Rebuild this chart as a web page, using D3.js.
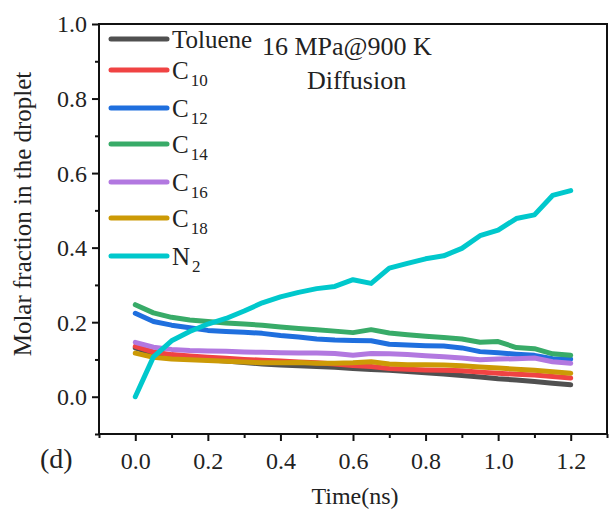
<!DOCTYPE html>
<html><head><meta charset="utf-8">
<script src="https://cdn.jsdelivr.net/npm/d3@7/dist/d3.min.js"></script>
<style>body{margin:0;background:#fff}svg text{font-family:"Liberation Serif","Times New Roman",serif;fill:#222}</style>
</head><body><svg id="c" width="609" height="512"></svg>
<script>
const time = [0,0.05,0.1,0.15,0.2,0.25,0.3,0.35,0.4,0.45,0.5,0.55,0.6,0.65,0.7,0.75,0.8,0.85,0.9,0.95,1.0,1.05,1.1,1.15,1.2];
const toluene = [0.131,0.115,0.107,0.102,0.099,0.096,0.092,0.088,0.085,0.083,0.081,0.079,0.076,0.073,0.071,0.068,0.064,0.061,0.057,0.053,0.048,0.045,0.041,0.036,0.032];
const c10 = [0.135,0.120,0.113,0.109,0.106,0.103,0.100,0.098,0.096,0.093,0.091,0.088,0.084,0.081,0.076,0.074,0.072,0.071,0.070,0.066,0.063,0.060,0.058,0.054,0.050];
const c12 = [0.224,0.202,0.192,0.185,0.178,0.175,0.173,0.170,0.164,0.160,0.155,0.152,0.151,0.150,0.141,0.139,0.137,0.136,0.131,0.121,0.118,0.114,0.111,0.102,0.101];
const c14 = [0.247,0.225,0.213,0.206,0.202,0.198,0.195,0.192,0.187,0.183,0.180,0.176,0.172,0.180,0.171,0.166,0.162,0.159,0.155,0.146,0.148,0.132,0.129,0.115,0.111];
const c16 = [0.146,0.133,0.127,0.124,0.123,0.122,0.120,0.119,0.118,0.117,0.117,0.116,0.111,0.116,0.115,0.113,0.110,0.107,0.104,0.099,0.101,0.102,0.104,0.094,0.090];
const c18 = [0.117,0.106,0.101,0.099,0.097,0.095,0.093,0.091,0.091,0.092,0.090,0.090,0.091,0.094,0.088,0.086,0.086,0.085,0.083,0.080,0.077,0.074,0.071,0.067,0.063];
const n2 = [0.000,0.107,0.150,0.175,0.195,0.210,0.230,0.252,0.268,0.280,0.290,0.296,0.314,0.304,0.345,0.358,0.370,0.378,0.398,0.432,0.447,0.478,0.488,0.540,0.553];
const seriesNames = ["Toluene","C|10","C|12","C|14","C|16","C|18","N|2"];
const seriesValues = [toluene,c10,c12,c14,c16,c18,n2];
const colors = ["#505050","#f04343","#1f6fde","#38ab68","#b278e0","#cc9a06","#00c8cc"];
const xTicks = [0,0.2,0.4,0.6,0.8,1.0,1.2];
const yTicks = [0,0.2,0.4,0.6,0.8,1.0];
const xMinor = [-0.1,0.1,0.3,0.5,0.7,0.9,1.1,1.3];
const yMinor = [-0.1,0.1,0.3,0.5,0.7,0.9];

const svg = d3.select("#c");
const L=99, R=607, T=24, B=434;
const x = d3.scaleLinear().domain([-0.1,1.3]).range([L,R]);
const y = d3.scaleLinear().domain([-0.1,1.0]).range([B,T]);

// axes
const gx = svg.append("g").attr("transform",`translate(0,${B})`)
  .call(d3.axisBottom(x).tickValues(xTicks).tickFormat(d3.format(".1f")).tickSize(7).tickSizeOuter(0));
const gxm = svg.append("g").attr("transform",`translate(0,${B})`)
  .call(d3.axisBottom(x).tickValues(xMinor).tickFormat("").tickSize(4).tickSizeOuter(0));
const gy = svg.append("g").attr("transform",`translate(${L},0)`)
  .call(d3.axisLeft(y).tickValues(yTicks).tickFormat(d3.format(".1f")).tickSize(7).tickSizeOuter(0));
const gym = svg.append("g").attr("transform",`translate(${L},0)`)
  .call(d3.axisLeft(y).tickValues(yMinor).tickFormat("").tickSize(4).tickSizeOuter(0));
[gx,gxm,gy,gym].forEach(g=>{
  g.attr("font-family",null);
  g.select(".domain").remove();
  g.selectAll(".tick line").attr("stroke","#111").attr("stroke-width",2);
  g.selectAll(".tick text").attr("font-size",24).attr("fill","#222").style("font-family","Liberation Serif");
});
gx.selectAll(".tick text").attr("y",18).attr("dy","0.71em");
gy.selectAll(".tick text").attr("x",-12).attr("dy","0.33em");

// frame
svg.append("rect").attr("x",L).attr("y",T).attr("width",R-L).attr("height",B-T)
  .attr("fill","none").attr("stroke","#111").attr("stroke-width",2);

// lines
const line = d3.line().x((d,i)=>x(time[i])).y(d=>y(d));
seriesValues.forEach((vals,k)=>{
  svg.append("path").datum(vals).attr("d",line).attr("fill","none")
    .attr("stroke",colors[k]).attr("stroke-width",5)
    .attr("stroke-linejoin","round").attr("stroke-linecap","round");
});

// legend
seriesNames.forEach((name,k)=>{
  const yy = [39,70,108,144,182,218,256][k];
  svg.append("line").attr("x1",111).attr("x2",167).attr("y1",yy).attr("y2",yy)
    .attr("stroke",colors[k]).attr("stroke-width",5).attr("stroke-linecap","round");
  const parts = name.split("|");
  const t = svg.append("text").attr("x",172).attr("y",yy+9).attr("font-size",25);
  t.append("tspan").text(parts[0]);
  if(parts[1]) t.append("tspan").attr("font-size",17).attr("dx",2).attr("dy",7).text(parts[1]);
});

// title
svg.append("text").attr("x",262).attr("y",55).attr("font-size",26).text("16 MPa@900 K");
svg.append("text").attr("x",307).attr("y",89).attr("font-size",26).text("Diffusion");

// axis labels
svg.append("text").attr("x",355).attr("y",504).attr("text-anchor","middle").attr("font-size",24).text("Time(ns)");
svg.append("text").attr("transform","translate(31,214) rotate(-90)").attr("text-anchor","middle").attr("font-size",25).text("Molar fraction in the droplet");
svg.append("text").attr("x",40).attr("y",468).attr("font-size",28).text("(d)");
</script></body></html>
